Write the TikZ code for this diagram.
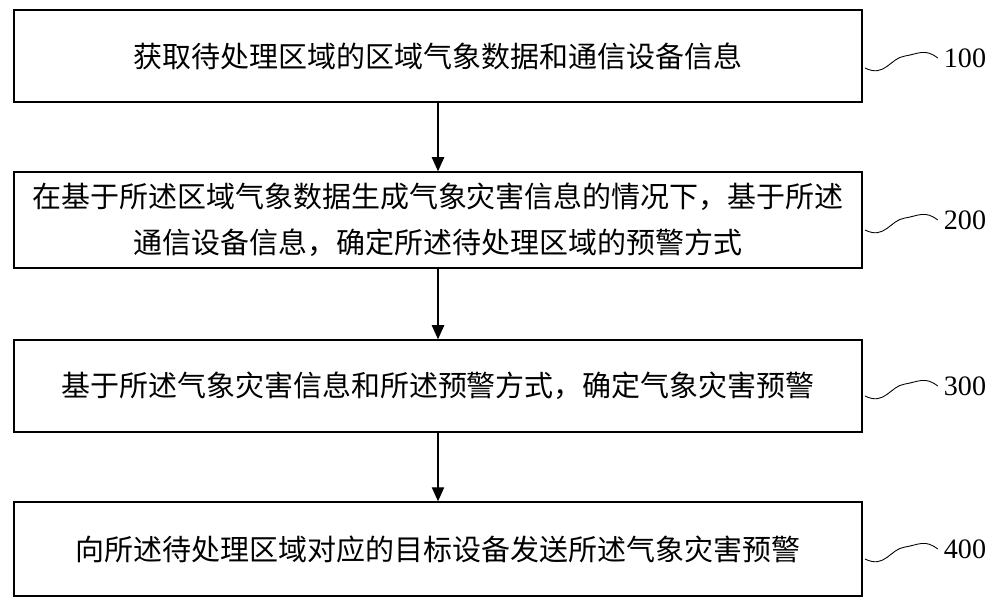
\documentclass[tikz,border=0pt]{standalone}
\usepackage{fontspec}
\setmainfont{Liberation Serif}
\newfontfamily\cjk{Noto Sans CJK SC}
\usetikzlibrary{positioning,arrows.meta}

\begin{document}
\begin{tikzpicture}[x=0.02cm,y=-0.02cm,
    stepbox/.style={rectangle, draw, line width=0.8pt, minimum width=16.96cm, align=center, font=\cjk\fontsize{16.5}{26}\selectfont},
    arrow/.style={-{Triangle[length=8pt,width=7pt]}, line width=0.8pt},
    wave/.style={line width=0.5pt},
    num/.style={font=\fontsize{16}{18}\selectfont}
]
\useasboundingbox (0,0) rectangle (1000,607);

% Steps
\node[stepbox, minimum height=1.84cm] (s100) at (438,56) {获取待处理区域的区域气象数据和通信设备信息};
\node[stepbox, minimum height=1.92cm] (s200) at (438,220) {在基于所述区域气象数据生成气象灾害信息的情况下，基于所述\\通信设备信息，确定所述待处理区域的预警方式};
\node[stepbox, minimum height=1.84cm] (s300) at (438,386) {基于所述气象灾害信息和所述预警方式，确定气象灾害预警};
\node[stepbox, minimum height=1.88cm] (s400) at (438,549) {向所述待处理区域对应的目标设备发送所述气象灾害预警};

% Labels
\foreach \n/\y in {100/58, 200/220, 300/386, 400/549}{
  \node[num] (l\n) at (965,\y) {\n};
  \draw[wave] (865,\y+10) .. controls (885,\y+20) and (890,\y) .. (905,\y-2)
              .. controls (918,\y-4) and (925,\y-10) .. (l\n.west);
}

% Arrows
\draw[arrow] (s100) -- (s200);
\draw[arrow] (s200) -- (s300);
\draw[arrow] (s300) -- (s400);
\end{tikzpicture}
\end{document}
